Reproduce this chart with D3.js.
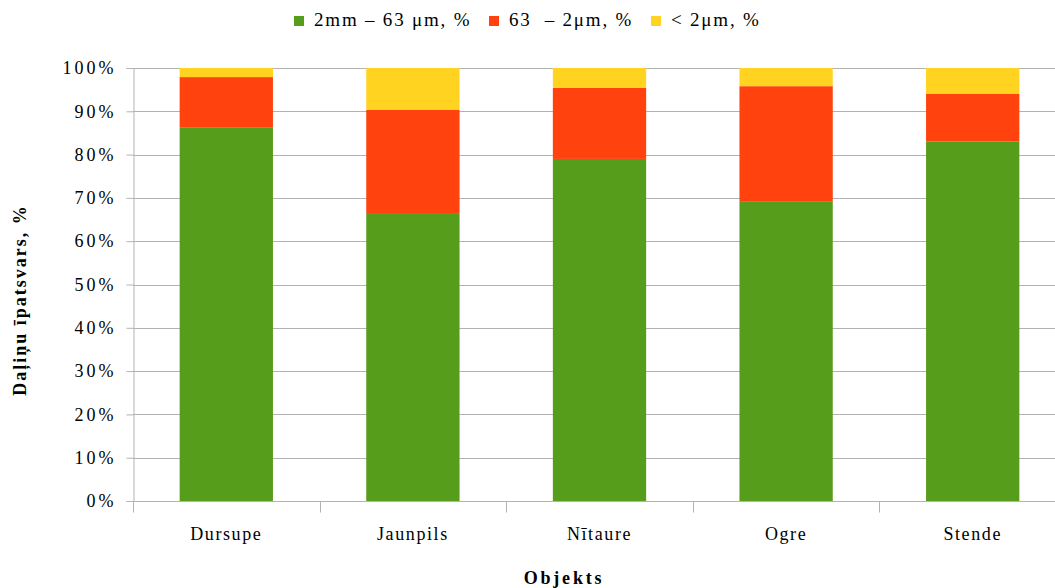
<!DOCTYPE html>
<html>
<head>
<meta charset="utf-8">
<script src="https://cdn.jsdelivr.net/npm/d3@7"></script>
<style>
  body { margin: 0; background: #fff; }
  svg { display: block; font-family: "Liberation Serif", "Times New Roman", serif; }
</style>
</head>
<body>
<svg id="chart" width="1055" height="588"></svg>
<script>
// Objects (sites) and the particle-size fractions at each, in percent
const categories = ["Dursupe", "Jaunpils", "Nītaure", "Ogre", "Stende"];
const sand = [86.2, 66.5, 79.0, 69.1, 83.0];   // 2mm – 63 µm
const silt = [11.7, 23.8, 16.4, 26.7, 11.0];   // 63 – 2µm
const clay = [2.1, 9.7, 4.6, 4.2, 6.0];        // < 2µm
const seriesNames = ["2mm – 63 μm, %", "63  – 2μm, %", "< 2μm, %"];
const seriesColors = ["#579D1C", "#FF420E", "#FFD320"];
const yTicks = [0, 10, 20, 30, 40, 50, 60, 70, 80, 90, 100];

const svg = d3.select("#chart");
const margin = { left: 133, right: -11, top: 68, bottom: 87 };
const W = 1055, H = 588;

const rows = categories.map((c, i) => ({ cat: c, s0: sand[i], s1: silt[i], s2: clay[i] }));
const stack = d3.stack().keys(["s0", "s1", "s2"])(rows);

const x = d3.scaleBand().domain(categories)
  .range([margin.left, W - margin.right]).paddingInner(0.5).paddingOuter(0.25);
const y = d3.scaleLinear().domain([0, 100]).range([H - margin.bottom, margin.top]);

// Horizontal gridlines
svg.append("g").selectAll("line").data(yTicks.slice(1)).join("line")
  .attr("x1", margin.left).attr("x2", W)
  .attr("y1", d => Math.round(y(d)) + 0.5).attr("y2", d => Math.round(y(d)) + 0.5)
  .attr("stroke", "#b3b3b3").attr("stroke-width", 1);

// Stacked bars
svg.append("g").selectAll("g").data(stack).join("g")
  .attr("fill", (d, i) => seriesColors[i])
  .selectAll("rect").data(d => d).join("rect")
  .attr("x", d => x(d.data.cat))
  .attr("width", x.bandwidth())
  .attr("y", d => y(d[1]))
  .attr("height", d => y(d[0]) - y(d[1]));

// Y axis
const yAxis = svg.append("g").attr("transform", `translate(${margin.left + 0.5},0)`)
  .call(d3.axisLeft(y).tickValues(yTicks).tickFormat(d => d + "%").tickSize(7).tickPadding(10));
yAxis.select(".domain").attr("stroke", "#b3b3b3");
yAxis.selectAll(".tick line").attr("stroke", "#b3b3b3");
yAxis.selectAll("text").attr("fill", "#000").attr("font-size", 18)
  .attr("font-family", "Liberation Serif").attr("letter-spacing", "3px");

// X axis with category separators
const xAxisY = Math.round(y(0)) + 0.5;
const xg = svg.append("g");
xg.append("line").attr("x1", margin.left).attr("x2", W)
  .attr("y1", xAxisY).attr("y2", xAxisY).attr("stroke", "#b3b3b3");
categories.forEach((c, i) => {
  const bx = Math.round(margin.left + i * x.step()) + 0.5;
  xg.append("line").attr("x1", bx).attr("x2", bx)
    .attr("y1", xAxisY).attr("y2", xAxisY + 11).attr("stroke", "#b3b3b3");
});
xg.selectAll("text.cat").data(categories).join("text")
  .attr("class", "cat")
  .attr("x", d => x(d) + x.bandwidth() / 2)
  .attr("y", 540)
  .attr("text-anchor", "middle")
  .attr("font-size", 18).attr("letter-spacing", "1.6px")
  .text(d => d);

// Axis titles
svg.append("text").attr("x", 564).attr("y", 584).attr("text-anchor", "middle")
  .attr("font-size", 18).attr("font-weight", "bold").attr("letter-spacing", "2.8px")
  .text("Objekts");
svg.append("text").attr("transform", "translate(26,300) rotate(-90)")
  .attr("text-anchor", "middle").attr("font-size", 18).attr("font-weight", "bold")
  .attr("letter-spacing", "2px")
  .text("Daļiņu īpatsvars, %");

// Legend
const legendX = [294, 489, 651];
const lg = svg.append("g").selectAll("g").data(seriesNames).join("g")
  .attr("transform", (d, i) => `translate(${legendX[i]},16)`);
lg.append("rect").attr("width", 10).attr("height", 10).attr("fill", (d, i) => seriesColors[i]);
lg.append("text").attr("x", 20).attr("y", 10).attr("font-size", 19)
  .attr("letter-spacing", "1.8px").attr("xml:space", "preserve").style("white-space", "pre")
  .text(d => d);
</script>
</body>
</html>
